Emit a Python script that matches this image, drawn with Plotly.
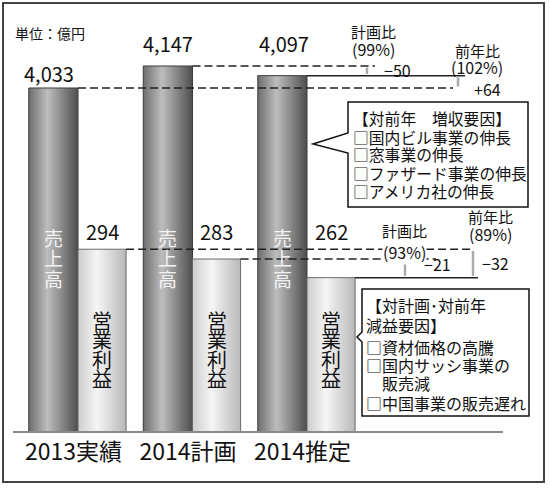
import plotly.graph_objects as go

# Data (unit: 100 million yen)
categories = ['2013実績', '2014計画', '2014推定']
sales = [4033, 4147, 4097]
profit = [294, 283, 262]

W, H = 550, 489


def px(x):
    return x / W


def py(y):
    return 1 - y / H


# x axis: category i sits at pixel 78 + 114.5*i
x_lo = -78 / 114.5
x_hi = (W - 78) / 114.5
base_frac = 1 - 432 / H

sales_w = 0.43
profit_w = 0.42

fig = go.Figure()

# Sales bars (cylinder-like gradient)
for i, v in enumerate(sales):
    x0, x1 = i - sales_w, i
    fig.add_trace(go.Scatter(
        x=[x0, x0, x1, x1, x0], y=[2250.4, v, v, 2250.4, 2250.4],
        mode='lines', fill='toself',
        fillgradient=dict(type='horizontal',
                          colorscale=[[0, '#6e6e6e'], [0.38, '#bdbdbd'], [1, '#4e4e4e']]),
        line=dict(color='#3c3c3c', width=1), hoverinfo='skip', showlegend=False,
        yaxis='y'
    ))

# Operating profit bars
for i, v in enumerate(profit):
    x0, x1 = i, i + profit_w
    fig.add_trace(go.Scatter(
        x=[x0, x0, x1, x1, x0], y=[88.4, v, v, 88.4, 88.4],
        mode='lines', fill='toself',
        fillgradient=dict(type='horizontal',
                          colorscale=[[0, '#cdcdcd'], [0.4, '#f5f5f5'], [1, '#b8b8b8']]),
        line=dict(color='#6a6a6a', width=1), hoverinfo='skip', showlegend=False,
        yaxis='y2'
    ))

shapes = []
annotations = []

# Outer frame
shapes.append(dict(type='rect', xref='paper', yref='paper',
                   x0=px(3), x1=px(544), y0=py(482), y1=py(3),
                   line=dict(color='#444', width=2), layer='below'))

# Baseline
shapes.append(dict(type='line', xref='paper', yref='paper',
                   x0=px(13), x1=px(503), y0=base_frac, y1=base_frac,
                   line=dict(color='#8a8a8a', width=2)))

dash = '8px,4px'


def xd(p):
    return (p - 78) / 114.5


# Sales comparison lines
shapes.append(dict(type='line', xref='x', yref='y', x0=0, x1=xd(453), y0=sales[0], y1=sales[0],
                   line=dict(color='#222', width=1.5, dash=dash)))
shapes.append(dict(type='line', xref='x', yref='y', x0=1, x1=xd(375), y0=sales[1], y1=sales[1],
                   line=dict(color='#222', width=1.5, dash=dash)))
shapes.append(dict(type='line', xref='x', yref='y', x0=2, x1=xd(465), y0=sales[2], y1=sales[2],
                   line=dict(color='#222', width=1.5)))
shapes.append(dict(type='line', xref='x', yref='y', x0=xd(367), x1=xd(367), y0=sales[2] + 8, y1=sales[1] - 8,
                   line=dict(color='#aaa', width=2.5)))
shapes.append(dict(type='line', xref='x', yref='y', x0=xd(458), x1=xd(458), y0=sales[0] + 8, y1=sales[2] - 8,
                   line=dict(color='#aaa', width=2.5)))

# Profit comparison lines
shapes.append(dict(type='line', xref='x', yref='y2', x0=profit_w, x1=xd(472), y0=profit[0], y1=profit[0],
                   line=dict(color='#222', width=1.5, dash=dash)))
shapes.append(dict(type='line', xref='x', yref='y2', x0=1 + profit_w, x1=xd(436), y0=profit[1], y1=profit[1],
                   line=dict(color='#222', width=1.5, dash=dash)))
shapes.append(dict(type='line', xref='x', yref='y2', x0=2 + profit_w, x1=xd(478), y0=profit[2], y1=profit[2],
                   line=dict(color='#222', width=1.5)))
shapes.append(dict(type='line', xref='x', yref='y2', x0=xd(405), x1=xd(405), y0=profit[2] + 2, y1=profit[1] - 2,
                   line=dict(color='#aaa', width=2.5)))
shapes.append(dict(type='line', xref='x', yref='y2', x0=xd(473), x1=xd(473), y0=profit[2] + 2, y1=profit[0] - 2,
                   line=dict(color='#aaa', width=2.5)))


def callout(pts):
    d = 'M ' + ' L '.join(f'{px(a):.4f},{py(b):.4f}' for a, b in pts) + ' Z'
    return dict(type='path', xref='paper', yref='paper', path=d,
                fillcolor='white', line=dict(color='#111', width=1.5))


shapes.append(callout([(348, 102), (528, 102), (528, 207), (348, 207),
                       (348, 153), (313, 144), (348, 133)]))
shapes.append(callout([(362, 289), (529, 289), (529, 416), (362, 416),
                       (362, 342), (357, 337), (362, 332)]))

JP = 'Noto Sans CJK JP'


def text(x, y, s, size, color='#111', anchor='center', bg=None):
    a = dict(xref='paper', yref='paper', x=px(x), y=py(y), text=s, showarrow=False,
             xanchor=anchor, yanchor='middle', font=dict(family=JP, size=size, color=color))
    if bg:
        a['bgcolor'] = bg
        a['borderpad'] = 0
    annotations.append(a)


text(13, 33, '単位：億円', 14, anchor='left')

# Value labels
sales_shift = [14, 22, 32]
sales_xshift = [-4, 0, 2]
for i, v in enumerate(sales):
    annotations.append(dict(xref='x', yref='y', x=i - sales_w / 2, y=v, text=f'{v:,}',
                            showarrow=False, yanchor='middle', yshift=sales_shift[i],
                            xshift=sales_xshift[i],
                            font=dict(family=JP, size=20, color='#111')))
for i, v in enumerate(profit):
    annotations.append(dict(xref='x', yref='paper', x=i + profit_w / 2, y=py(231.5), text=f'{v:,}',
                            showarrow=False, yanchor='middle',
                            font=dict(family=JP, size=20, color='#111')))

# Vertical labels inside bars
for i in range(3):
    cx = 78 + 114.5 * i - sales_w * 114.5 / 2
    for k, ch in enumerate('売上高'):
        text(cx, 237 + 20.5 * k, ch, 19, color='#f2f2f2')
    cx2 = 78 + 114.5 * i + profit_w * 114.5 / 2
    for k, ch in enumerate('営業利益'):
        text(cx2, 320 + 19.5 * k, ch, 20, color='#111')

# Comparison texts
text(373, 31, '計画比', 15)
text(373, 49, '(99%)', 16)
text(477, 50, '前年比', 15)
text(477, 67, '(102%)', 16)
text(397, 70, '−50', 16)
text(487, 89, '+64', 16)

text(404, 231, '計画比', 15)
text(404, 252, '(93%)', 16, bg='white')
text(490, 216, '前年比', 15)
text(490, 234, '(89%)', 16)
text(437, 264, '−21', 16)
text(495, 263, '−32', 16)

# Callout texts
box1 = ['【対前年　増収要因】', '□国内ビル事業の伸長', '□窓事業の伸長',
        '□ファザード事業の伸長', '□アメリカ社の伸長']
box1_y = [118, 137, 154, 173, 192]
for s, y in zip(box1, box1_y):
    text(351, y, s, 15.8, anchor='left')

box2 = ['【対計画･対前年', '減益要因】', '□資材価格の高騰', '□国内サッシ事業の',
        '　販売減', '□中国事業の販売遅れ']
box2_y = [305, 325, 347, 365, 383, 403]
for s, y in zip(box2, box2_y):
    text(364, y, s, 16, anchor='left')

fig.update_layout(
    width=W, height=H, autosize=False,
    margin=dict(l=0, r=0, t=0, b=0),
    paper_bgcolor='white', plot_bgcolor='white',
    showlegend=False,
    xaxis=dict(range=[x_lo, x_hi], domain=[0, 1], showgrid=False, zeroline=False,
               showline=False, tickvals=[i - 0.04 for i in range(3)], ticktext=categories,
               tickfont=dict(family=JP, size=23, color='#111'), ticks='',
               ticklabelstandoff=4, fixedrange=True),
    yaxis=dict(range=[2250.4, 2250.4 + 432 / 0.19298], domain=[base_frac, 1],
               visible=False, fixedrange=True),
    yaxis2=dict(range=[88.4, 88.4 + 432 / 0.889], domain=[base_frac, 1], overlaying='y',
                visible=False, fixedrange=True),
    shapes=shapes,
    annotations=annotations,
)

# drop the default page margin so the figure sits at the window corner
fig.write_html('out.html', config={'displayModeBar': False},
               post_script="document.body.style.margin='0';")
